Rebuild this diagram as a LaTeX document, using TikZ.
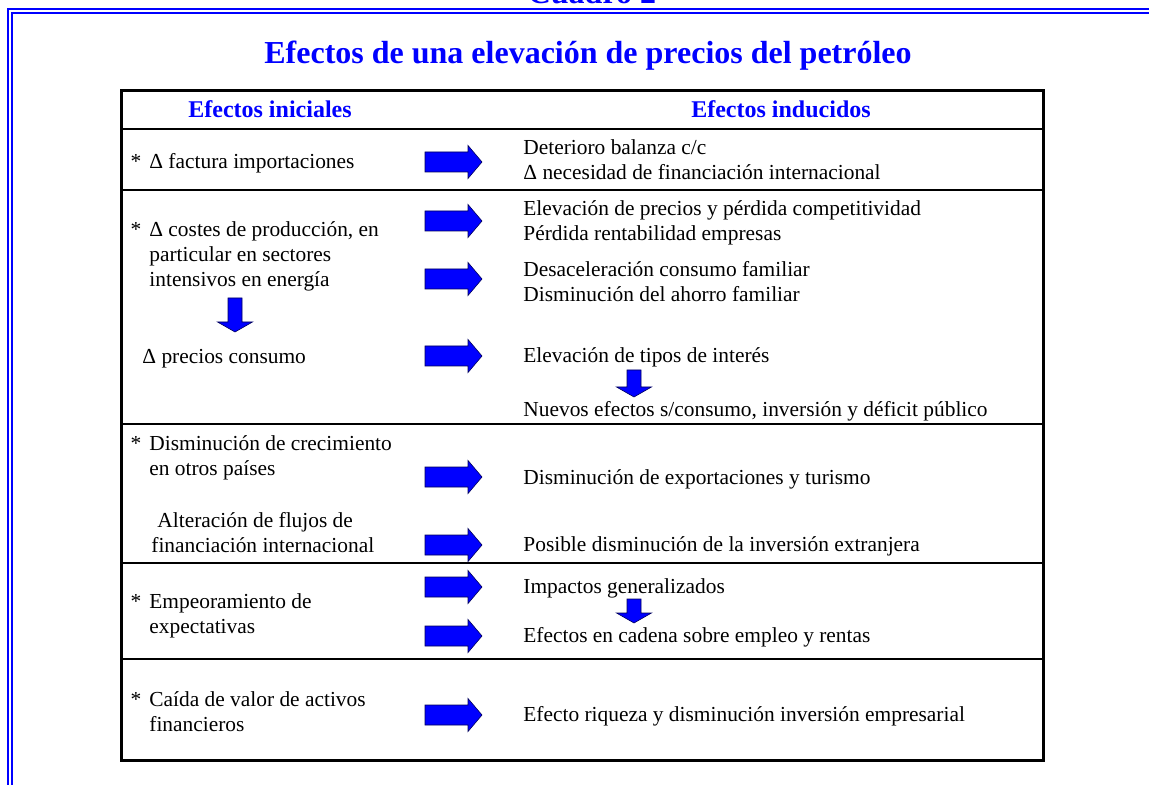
\documentclass[tikz,border=0pt]{standalone}
\usepackage{fontspec}
\setmainfont{Liberation Serif}
\usepackage{xcolor}
\usepackage{tikz}
\usetikzlibrary{positioning}
\definecolor{CU_BLUE}{HTML}{0000FF}
\definecolor{CU_EDGE}{HTML}{00005A}
\tikzset{
  %% -- blue double frame of the page --
  CU/frame/.style={draw=CU_BLUE, line width=1pt},
  %% -- title and column headers --
  CU/title/.style={font=\fontsize{16}{19}\selectfont\bfseries, text=CU_BLUE,
    inner sep=0pt, anchor=base},
  CU/head/.style={font=\fontsize{12}{14}\selectfont\bfseries, text=CU_BLUE,
    inner sep=0pt, anchor=base},
  %% -- cell text (anchor = baseline of the last line) --
  CU/txt/.style={font=\fontsize{10.7}{12.5}\selectfont, inner sep=0pt,
    anchor=base west, align=left},
  %% -- table box and row rules --
  CU/table/.style={draw=black, line width=1.5pt},
  CU/sep/.style={draw=black, line width=0.9pt},
  %% -- block arrows --
  CU/shape/.style={fill=CU_BLUE, draw=CU_EDGE, line width=0.3pt},
  pics/CU/rarr/.style={code={
    \path[CU/shape] (0,-10) -- (43,-10) -- (43,-16.5) -- (57,0)
      -- (43,16.5) -- (43,10) -- (0,10) -- cycle;}},
  pics/CU/darr/.style={code={
    \path[CU/shape] (-7,0) -- (7,0) -- (7,#1) -- (17.5,#1) -- (0,#1+10)
      -- (-17.5,#1) -- (-7,#1) -- cycle;}},
}
\newcommand{\cuStar}{\llap{*\hspace{4pt}}}

\begin{document}
\begin{tikzpicture}[x=0.5pt, y=-0.5pt]

\useasboundingbox (0,0) rectangle (1149,785);
\clip (0,0) rectangle (1149,785);

%% ── Column positions ───────────────────────────────────────────────────────
\pgfmathsetmacro{\xL}{149}   %% left column text
\pgfmathsetmacro{\xA}{425}   %% block arrows
\pgfmathsetmacro{\xR}{523}   %% right column text

%% ── Page frame ─────────────────────────────────────────────────────────────
\draw[CU/frame] (8,800) -- (8,9) -- (1160,9);
\draw[CU/frame] (12,800) -- (12,13) -- (1160,13);

%% caption above the frame, only its lower edge lies on the page
\node[CU/title] (cuadro) at (592,3.5) {Cuadro 2};
\node[CU/title] (title) at (588,64)
  {Efectos de una elevación de precios del petróleo};

%% ── Table ──────────────────────────────────────────────────────────────────
\draw[CU/table] (121,91) rectangle (1043,760);
\node[CU/head] (hIni) at (270,118) {Efectos iniciales};
\node[CU/head] (hInd) at (781,118) {Efectos inducidos};

\draw[CU/sep] (121,129) -- (1043,129);
\draw[CU/sep] (121,190) -- (1043,190);
\draw[CU/sep] (121,424) -- (1043,424);
\draw[CU/sep] (121,563) -- (1043,563);
\draw[CU/sep] (121,659) -- (1043,659);

%% ══════════════════════════════════════════════════════════════════════════
%% Left column — initial effects
%% ══════════════════════════════════════════════════════════════════════════
\node[CU/txt] (L1) at (\xL,169) {\cuStar Δ factura importaciones};
\node[CU/txt] (L2) at (\xL,287)
  {\cuStar Δ costes de producción, en\\particular en sectores\\intensivos en energía};
\pic (dL2) at (235,298) {CU/darr=24};
\node[CU/txt] (L2b) at (142,364) {Δ precios consumo};
\node[CU/txt] (L3) at (\xL,475)
  {\cuStar Disminución de crecimiento\\en otros países};
\node[CU/txt] (L3b) at (157,552)
  {Alteración de flujos de\\\hspace*{-3pt}financiación internacional};
\node[CU/txt] (L4) at (\xL,633) {\cuStar Empeoramiento de\\expectativas};
\node[CU/txt] (L5) at (\xL,731) {\cuStar Caída de valor de activos\\financieros};

%% ══════════════════════════════════════════════════════════════════════════
%% Arrows between columns
%% ══════════════════════════════════════════════════════════════════════════
\pic (r1) at (\xA,162) {CU/rarr};
\pic (r2) at (\xA,221) {CU/rarr};
\pic (r3) at (\xA,279) {CU/rarr};
\pic (r4) at (\xA,356) {CU/rarr};
\pic (r5) at (\xA,477) {CU/rarr};
\pic (r6) at (\xA,545) {CU/rarr};
\pic (r7) at (\xA,587) {CU/rarr};
\pic (r8) at (\xA,636) {CU/rarr};
\pic (r9) at (\xA,715) {CU/rarr};

%% ══════════════════════════════════════════════════════════════════════════
%% Right column — induced effects
%% ══════════════════════════════════════════════════════════════════════════
\node[CU/txt] (R1) at (\xR,180)
  {Deterioro balanza c/c\\Δ necesidad de financiación internacional};
\node[CU/txt] (R2) at (\xR,241)
  {Elevación de precios y pérdida competitividad\\Pérdida rentabilidad empresas};
\node[CU/txt] (R3) at (\xR,302)
  {Desaceleración consumo familiar\\Disminución del ahorro familiar};
\node[CU/txt] (R4) at (\xR,363) {Elevación de tipos de interés};
\pic (dR4) at (634,370) {CU/darr=17};
\node[CU/txt] (R4b) at (\xR,416)
  {Nuevos efectos s/consumo, inversión y déficit público};
\node[CU/txt] (R5) at (\xR,484) {Disminución de exportaciones y turismo};
\node[CU/txt] (R6) at (\xR,551) {Posible disminución de la inversión extranjera};
\node[CU/txt] (R7) at (\xR,593) {Impactos generalizados};
\pic (dR7) at (634,599) {CU/darr=14};
\node[CU/txt] (R8) at (\xR,642) {Efectos en cadena sobre empleo y rentas};
\node[CU/txt] (R9) at (\xR,721)
  {Efecto riqueza y disminución inversión empresarial};

\end{tikzpicture}
\end{document}
